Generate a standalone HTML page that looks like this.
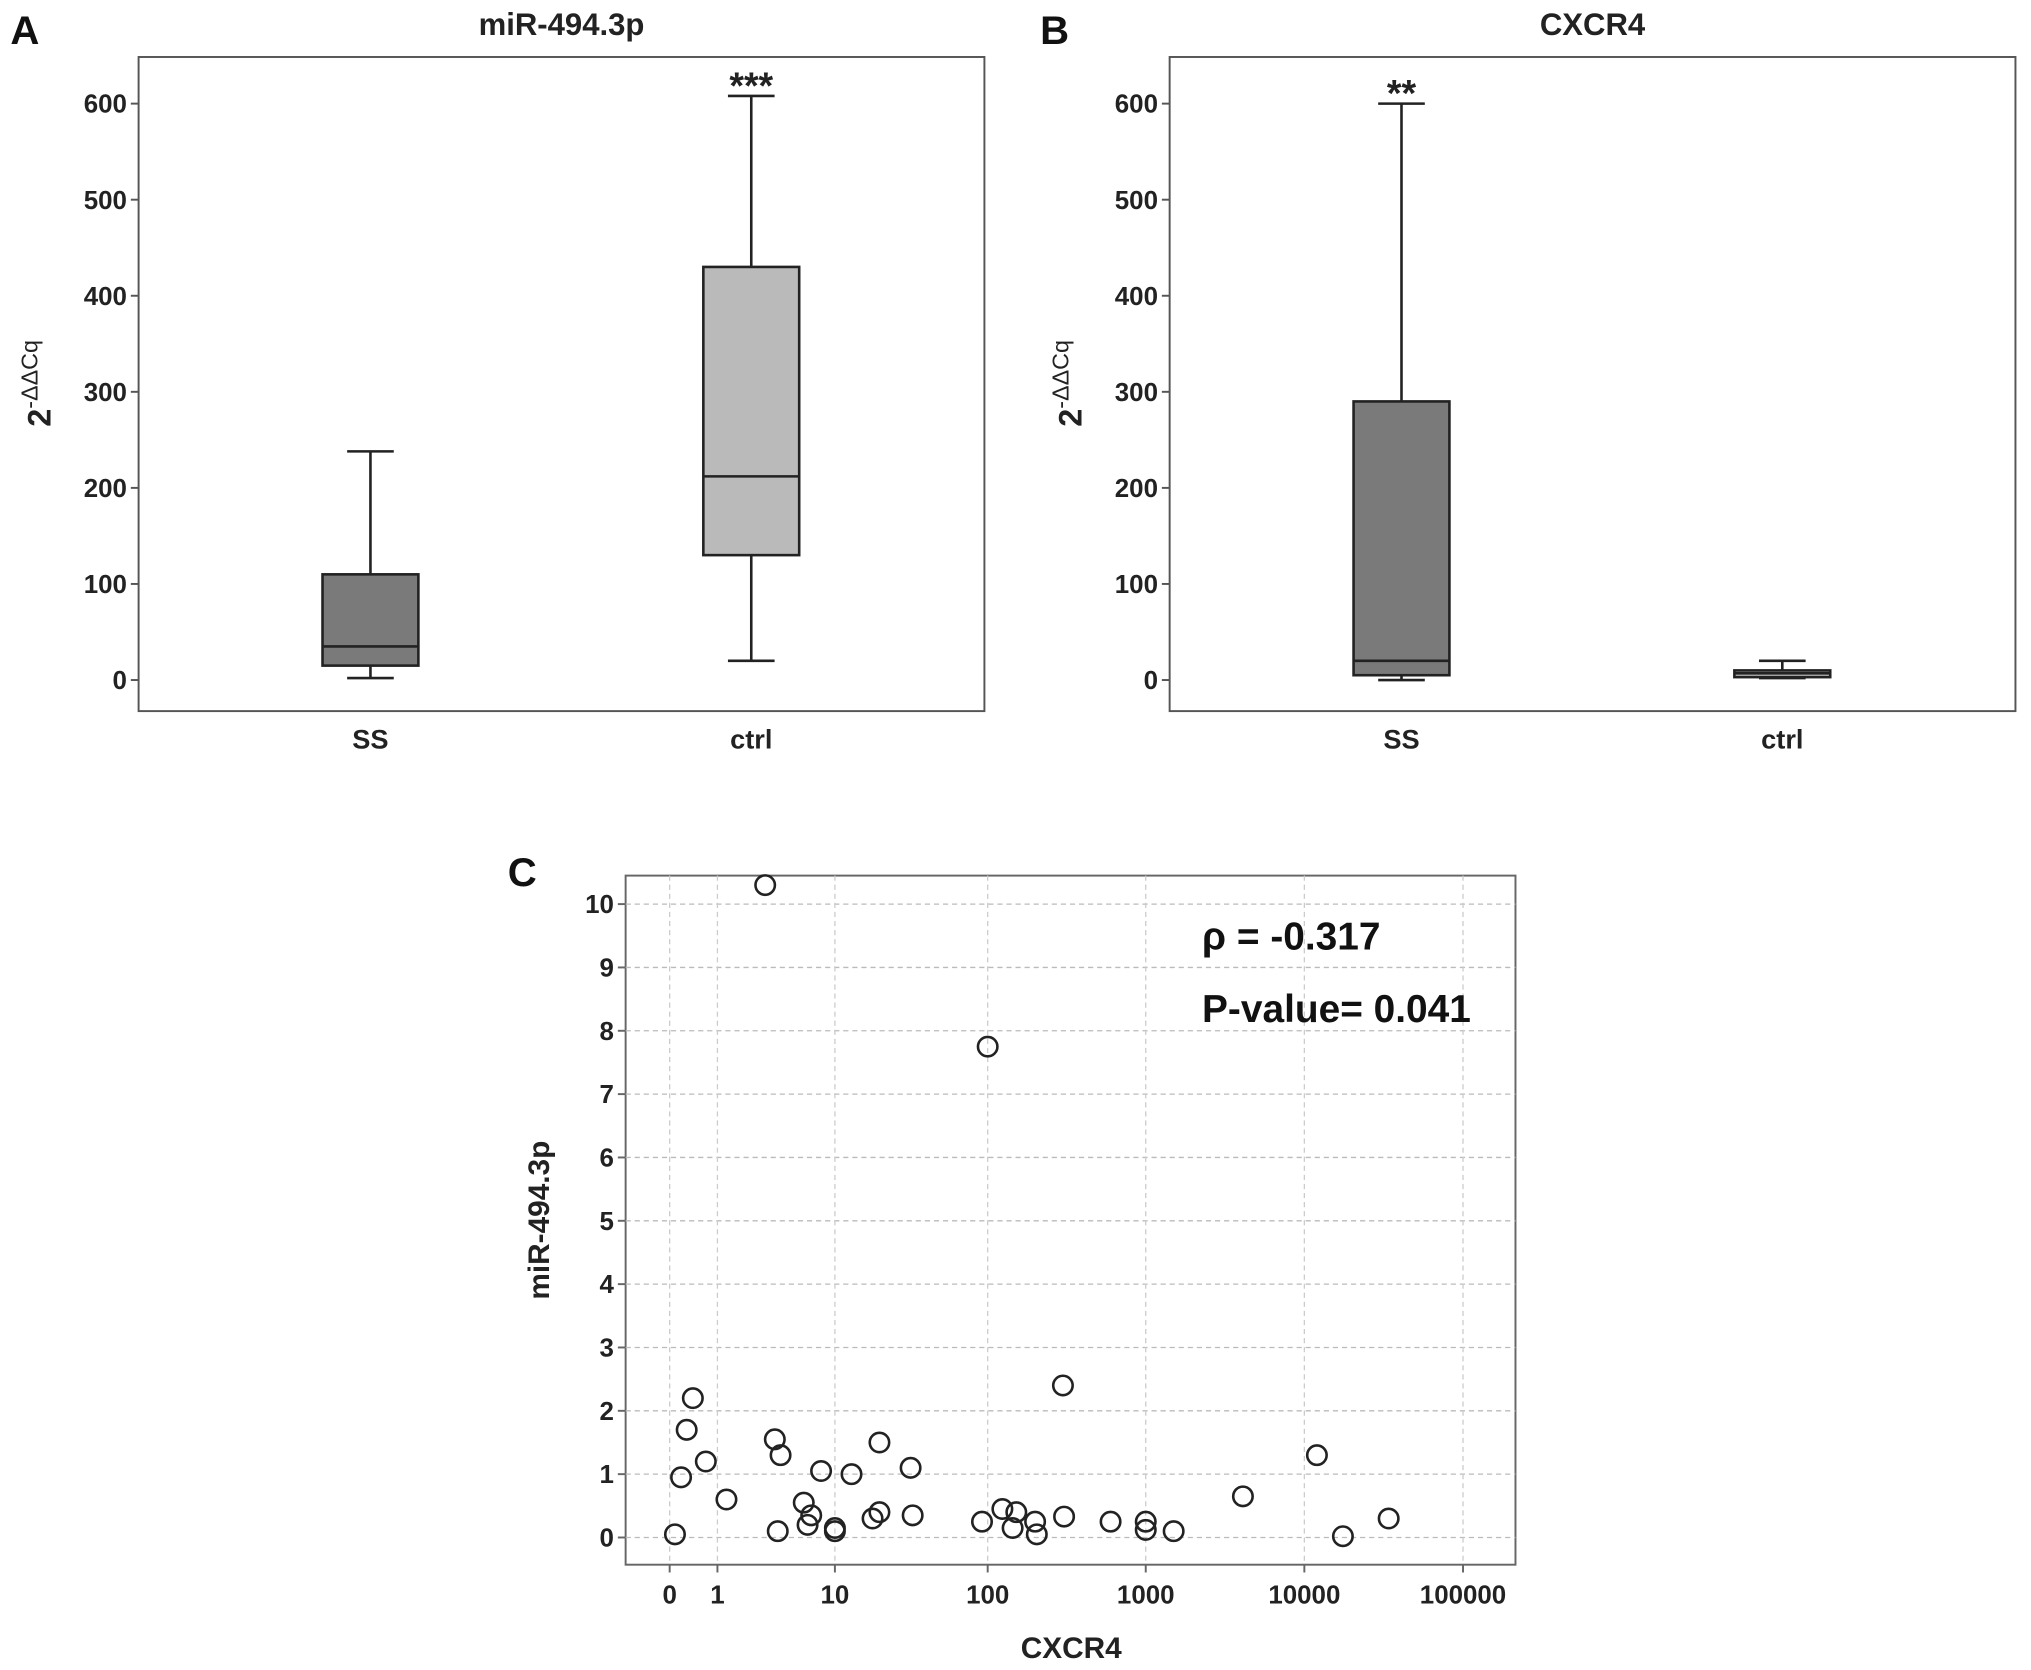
<!DOCTYPE html>
<html><head><meta charset="utf-8"><style>
html,body{margin:0;padding:0;background:#fff}
svg{display:block;font-family:"Liberation Sans",Arial,sans-serif;font-weight:bold}
</style></head><body>
<svg id="fig" width="2031" height="1670" viewBox="0 0 1568 1289.3" xmlns="http://www.w3.org/2000/svg"></svg>
<script>
// Panel A/B data (boxplot stats: min, q1, median, q3, max)
const boxCategories = ["SS", "ctrl"];
const mirStats = [[2, 15, 35, 110, 238], [20, 130, 212, 430, 608]];
const cxcrStats = [[0, 5, 20, 290, 600], [2, 3, 7, 10, 20]];
const boxTicks = [0, 100, 200, 300, 400, 500, 600];
const mirStars = ["", "***"];
const cxcrStars = ["**", ""];
// Panel C scatter data
const scatterX = [3.0,100,300,0.4,0.28,3.6,4.0,20,0.69,0.18,8,13,32,1.28,6,6.8,6.4,3.8,10,10,18,20,33,92,124,152,144,200,205,305,600,1000,1000,1500,4100,12000,17500,34000,0.08];
const scatterY = [10.3,7.75,2.4,2.2,1.7,1.55,1.3,1.5,1.2,0.95,1.05,1.0,1.1,0.6,0.55,0.35,0.2,0.1,0.15,0.1,0.3,0.4,0.35,0.25,0.45,0.4,0.15,0.25,0.05,0.33,0.25,0.25,0.12,0.1,0.65,1.3,0.02,0.3,0.05];
const scatterYTicks = [0,1,2,3,4,5,6,7,8,9,10];
const scatterXTicks = [0,1,10,100,1000,10000,100000];
const scatterXTickLabels = ["0","1","10","100","1000","10000","100000"];

const NS = "http://www.w3.org/2000/svg";
const svg = document.getElementById("fig");
function mk(tag, attrs, parent, text) {
  const e = document.createElementNS(NS, tag);
  for (const k in attrs) e.setAttribute(k, attrs[k]);
  if (text !== undefined) e.textContent = text;
  (parent || svg).appendChild(e);
  return e;
}

function boxPanel(opts) {
  const g = mk("g", {});
  
  
  const L = opts.left, R = opts.left + 653, T = 44, B = 549;
  const y = v => 525 - v * (445 / 600);
  const xs = [L + 179, L + 473];
  const fills = ["#7a7a7a", "#bababa"];
  const frame = mk("rect", {x: L, y: T, width: R - L, height: B - T, fill: "none", stroke: "#555", "stroke-width": 1.5}, g);
  
  
  boxTicks.forEach(t => {
    const tk = mk("line", {x1: L - 6, x2: L, y1: y(t), y2: y(t), stroke: "#555", "stroke-width": 1.5}, g);
    
    
    const tl = mk("text", {x: L - 9, y: y(t) + 7, "text-anchor": "end", "font-size": 20, fill: "#222"}, g, String(t));
    
    
  });
  boxCategories.forEach((c, i) => {
    const s = opts.stats[i], x = xs[i], hw = 37, cw = 18;
    const bg = mk("g", {}, g);
    
    
    mk("line", {x1: x, x2: x, y1: y(s[0]), y2: y(s[1]), stroke: "#222", "stroke-width": 2}, bg);
    mk("line", {x1: x, x2: x, y1: y(s[3]), y2: y(s[4]), stroke: "#222", "stroke-width": 2}, bg);
    mk("line", {x1: x - cw, x2: x + cw, y1: y(s[0]), y2: y(s[0]), stroke: "#222", "stroke-width": 2}, bg);
    mk("line", {x1: x - cw, x2: x + cw, y1: y(s[4]), y2: y(s[4]), stroke: "#222", "stroke-width": 2}, bg);
    mk("rect", {x: x - hw, y: y(s[3]), width: 2 * hw, height: Math.max(1, y(s[1]) - y(s[3])), fill: fills[i], stroke: "#222", "stroke-width": 2}, bg);
    mk("line", {x1: x - hw, x2: x + hw, y1: y(s[2]), y2: y(s[2]), stroke: "#222", "stroke-width": 2}, bg);
    const cl = mk("text", {x: x, y: 578, "text-anchor": "middle", "font-size": 21, fill: "#222"}, g, c);
    
    
    if (opts.stars[i]) {
      const st = mk("text", {x: x, y: y(s[4]) + 2, "text-anchor": "middle", "font-size": 29, fill: "#222"}, g, opts.stars[i]);
      
      
    }
  });
  const ti = mk("text", {x: (L + R) / 2, y: 27, "text-anchor": "middle", "font-size": 24, fill: "#222"}, g, opts.title);
  
  
  const pl = mk("text", {x: opts.labelX, y: 34, "font-size": 31, fill: "#111"}, g, opts.letter);
  
  
  const yl = mk("text", {transform: "translate(" + (L - 68) + ",296) rotate(-90)", "text-anchor": "middle", "font-size": 25, fill: "#222"}, g);
  
  
  mk("tspan", {}, yl, "2");
  mk("tspan", {dy: -10, "font-size": 18, "font-weight": "normal"}, yl, "-ΔΔCq");
}

boxPanel({name: "panel-a-mir494", left: 107, stats: mirStats, stars: mirStars, title: "miR-494.3p", letter: "A", labelX: 8});
boxPanel({name: "panel-b-cxcr4", left: 903, stats: cxcrStats, stars: cxcrStars, title: "CXCR4", letter: "B", labelX: 803});

// Panel C
(function () {
  const g = mk("g", {});
  
  
  const L = 483, R = 1170, T = 676, B = 1208;
  const xp = v => 517 + 122.5 * Math.log10(v + 1);
  const yp = v => 1187 - v * 48.9;
  mk("rect", {x: L, y: T, width: R - L, height: B - T, fill: "#fff", stroke: "#666", "stroke-width": 1.5}, g);
  scatterYTicks.forEach(t => {
    const gl = mk("line", {x1: L, x2: R, y1: yp(t), y2: yp(t), stroke: "#bbb", "stroke-width": 1, "stroke-dasharray": "4,3"}, g);
    
    
    mk("line", {x1: L - 6, x2: L, y1: yp(t), y2: yp(t), stroke: "#666", "stroke-width": 1.5}, g);
    const tl = mk("text", {x: L - 9, y: yp(t) + 7, "text-anchor": "end", "font-size": 20, fill: "#222"}, g, String(t));
    
    
  });
  scatterXTicks.forEach((t, i) => {
    const gl = mk("line", {x1: xp(t), x2: xp(t), y1: T, y2: B, stroke: "#ccc", "stroke-width": 1, "stroke-dasharray": "4,3"}, g);
    
    
    mk("line", {x1: xp(t), x2: xp(t), y1: B, y2: B + 6, stroke: "#666", "stroke-width": 1.5}, g);
    const tl = mk("text", {x: xp(t), y: B + 30, "text-anchor": "middle", "font-size": 20, fill: "#222"}, g, scatterXTickLabels[i]);
    
    
  });
  scatterX.forEach((xv, i) => {
    const c = mk("circle", {cx: xp(xv), cy: yp(scatterY[i]), r: 7.5, fill: "none", stroke: "#222", "stroke-width": 2}, g);
    
    
  });
  const r1 = mk("text", {x: 928, y: 733, "font-size": 30, fill: "#111"}, g, "ρ = -0.317");
  
  
  const r2 = mk("text", {x: 928, y: 789, "font-size": 30, fill: "#111"}, g, "P-value= 0.041");
  
  
  const xt = mk("text", {x: 827, y: 1280, "text-anchor": "middle", "font-size": 23, fill: "#222"}, g, "CXCR4");
  
  
  const yt = mk("text", {transform: "translate(424,942) rotate(-90)", "text-anchor": "middle", "font-size": 23, fill: "#222"}, g, "miR-494.3p");
  
  
  const pl = mk("text", {x: 392, y: 684, "font-size": 31, fill: "#111"}, g, "C");
  
  
})();
</script>
</body></html>
